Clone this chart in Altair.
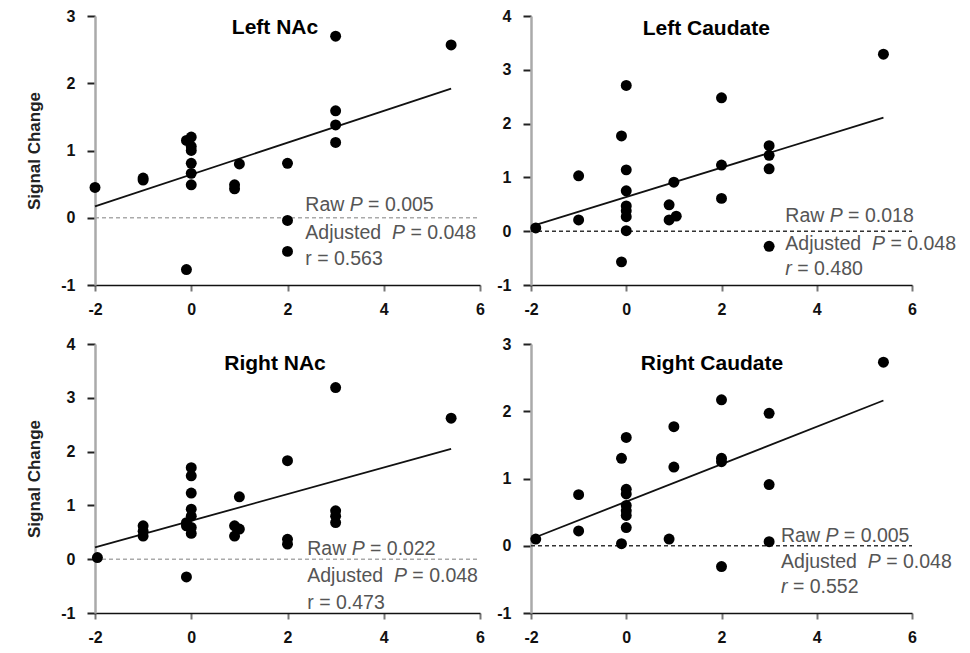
import altair as alt
import pandas as pd

# ---------------- data ----------------
panel_titles = ["Left NAc", "Left Caudate", "Right NAc", "Right Caudate"]

lnac_x = [-2, -1, -1, -0.1, 0, 0, 0, 0, 0, 0, -0.1, 1, 0.9, 0.9, 2, 2, 2, 3, 3, 3, 3, 5.4]
lnac_y = [0.45, 0.59, 0.56, 1.15, 1.2, 1.06, 1.0, 0.81, 0.66, 0.49, -0.77, 0.8, 0.49, 0.43,
          0.81, -0.04, -0.5, 2.7, 1.59, 1.38, 1.12, 2.57]

lcau_x = [-1.9, -1, -1, -0.1, 0, 0, 0, 0, 0, 0, 0, -0.1, 1, 0.9, 0.9, 1.05, 2, 2, 2, 3, 3, 3, 3, 5.4]
lcau_y = [0.06, 1.03, 0.21, 1.77, 2.71, 1.14, 0.75, 0.47, 0.38, 0.27, 0.01, -0.57, 0.91, 0.49,
          0.21, 0.28, 2.48, 1.23, 0.61, 1.59, 1.41, 1.16, -0.28, 3.29]

rnac_x = [-1.95, -1, -1, -1, -0.1, 0, 0, 0, 0, 0, -0.1, 0, 0, -0.1, 1, 0.9, 1, 0.9, 2, 2, 2,
          3, 3, 3, 3, 5.4]
rnac_y = [0.03, 0.62, 0.52, 0.43, -0.33, 1.7, 1.55, 1.23, 0.93, 0.8, 0.68, 0.59, 0.48, 0.62,
          1.16, 0.62, 0.56, 0.43, 1.83, 0.37, 0.28, 3.19, 0.9, 0.8, 0.68, 2.62]

rcau_x = [-1.9, -1, -1, -0.1, 0, 0, 0, 0, 0, 0, 0, -0.1, 1, 1, 0.9, 2, 2, 2, 2, 3, 3, 3, 5.4]
rcau_y = [0.1, 0.76, 0.22, 1.3, 1.61, 0.84, 0.77, 0.6, 0.52, 0.45, 0.27, 0.03, 1.77, 1.17, 0.1,
          2.17, 1.3, 1.25, -0.31, 1.97, 0.91, 0.06, 2.73]

fit_x = [-2, 5.4]
lnac_fit = [0.17, 1.92]
lcau_fit = [0.09, 2.11]
rnac_fit = [0.22, 2.05]
rcau_fit = [0.10, 2.16]

raw_p = ["0.005", "0.018", "0.022", "0.005"]
adj_p = ["0.048", "0.048", "0.048", "0.048"]
r_val = ["0.563", "0.480", "0.473", "0.552"]
r_italic = [False, True, False, True]

y_domains = [[-1, 3], [-1, 4], [-1, 4], [-1, 3]]
x_ticks = [-2, 0, 2, 4, 6]

# annotation anchor positions (data coords)
title_pos = [(1.74, 2.82), (1.68, 3.76), (1.74, 3.62), (1.80, 2.70)]
stat_x = [2.37, 3.34, 2.41, 3.25]
stat_y = [[0.19, -0.22, -0.62], [0.28, -0.24, -0.71], [0.19, -0.32, -0.82], [0.15, -0.24, -0.61]]

W_LEFT, W_RIGHT, H = 385, 381, 269
FONT = "Liberation Sans"
STAT_SIZE = 19.5
ASCII_LABEL = "'' + datum.value"

# Arial / Liberation Sans advance widths (per 1000 em) for piecing mixed-style text
ADV = {"R": 722, "a": 556, "w": 722, " ": 278, "A": 667, "d": 556, "j": 222,
       "u": 556, "s": 500, "t": 278, "e": 556, "P": 667, "=": 584, ".": 278, "r": 333}


def text_width(s, size):
    return sum(ADV.get(c, 556) for c in s) * size / 1000.0


def panel(i, xs, ys, fit, show_ytitle, width, zero_color):
    lo, hi = y_domains[i]
    X = alt.X("x:Q", scale=alt.Scale(domain=[-2, 6], nice=False, zero=False),
              axis=alt.Axis(values=x_ticks, title="", grid=False, domainColor="#111",
                            domainWidth=1.5, tickColor="#777", tickSize=6, tickWidth=2,
                            labelPadding=10, labelFontSize=16, labelFontWeight="bold",
                            labelColor="#111", labelFont=FONT, labelFlush=False,
                            labelExpr=ASCII_LABEL))
    Y = alt.Y("y:Q", scale=alt.Scale(domain=[lo, hi], nice=False, zero=False),
              axis=alt.Axis(values=list(range(lo, hi + 1)),
                            title="Signal Change" if show_ytitle else "",
                            titleFontSize=17, titleFont=FONT, titleFontWeight="bold",
                            titleColor="#222", titlePadding=17,
                            grid=False, domainColor="#aaa", domainWidth=2.5,
                            tickColor="#222", tickSize=8, tickWidth=2, labelPadding=12,
                            labelFontSize=16, labelFontWeight="bold", labelColor="#111",
                            labelFont=FONT, labelFlush=False, labelExpr=ASCII_LABEL))

    pts = pd.DataFrame({"x": xs, "y": ys})
    line = pd.DataFrame({"x": fit_x, "y": fit})
    zero = pd.DataFrame({"x": [-2], "x2": [6], "y": [0]})
    tt = pd.DataFrame({"x": [title_pos[i][0]], "y": [title_pos[i][1]], "t": [panel_titles[i]]})

    layers = [
        alt.Chart(zero).mark_rule(color=zero_color, strokeDash=[4, 3], strokeWidth=1.5).encode(
            x=X, x2="x2:Q", y=Y),
        alt.Chart(line).mark_line(color="#111", strokeWidth=1.8).encode(x=X, y=Y),
        alt.Chart(pts).mark_circle(size=120, color="#000", opacity=1).encode(x=X, y=Y),
        alt.Chart(tt).mark_text(font=FONT, fontSize=21, fontWeight="bold", color="#000",
                                align="center", baseline="middle").encode(x=X, y=Y, text="t:N"),
    ]

    # (text, italic, number of spaces that follow it)
    stat_lines = [
        [("Raw", False, 1), ("P", True, 1), (f"= {raw_p[i]}", False, 0)],
        [("Adjusted", False, 2), ("P", True, 1), (f"= {adj_p[i]}", False, 0)],
        [("r", r_italic[i], 1), (f"= {r_val[i]}", False, 0)],
    ]
    space_w = text_width(" ", STAT_SIZE)
    for k, pieces in enumerate(stat_lines):
        offset = 0.0
        for txt, ital, n_sp in pieces:
            df = pd.DataFrame({"x": [stat_x[i]], "y": [stat_y[i][k]], "t": [txt]})
            kw = dict(font=FONT, fontSize=STAT_SIZE, color="#555", align="left",
                      baseline="middle", dx=round(offset, 1))
            if ital:
                kw["fontStyle"] = "italic"
            layers.append(alt.Chart(df).mark_text(**kw).encode(x=X, y=Y, text="t:N"))
            offset += text_width(txt, STAT_SIZE) + n_sp * space_w

    return alt.layer(*layers).properties(width=width, height=H)


p1 = panel(0, lnac_x, lnac_y, lnac_fit, True, W_LEFT, "#aaa")
p2 = panel(1, lcau_x, lcau_y, lcau_fit, False, W_RIGHT, "#333")
p3 = panel(2, rnac_x, rnac_y, rnac_fit, True, W_LEFT, "#aaa")
p4 = panel(3, rcau_x, rcau_y, rcau_fit, False, W_RIGHT, "#333")

row1 = alt.hconcat(p1, p2, spacing=11).resolve_scale(x="independent", y="independent")
row2 = alt.hconcat(p3, p4, spacing=11).resolve_scale(x="independent", y="independent")

chart = alt.vconcat(row1, row2, spacing=19).resolve_scale(
    x="independent", y="independent"
).configure_view(stroke=None).properties(
    padding={"left": 17, "top": 0, "right": 5, "bottom": 5})

chart.save("out.html", embed_options={"renderer": "svg", "actions": False})
